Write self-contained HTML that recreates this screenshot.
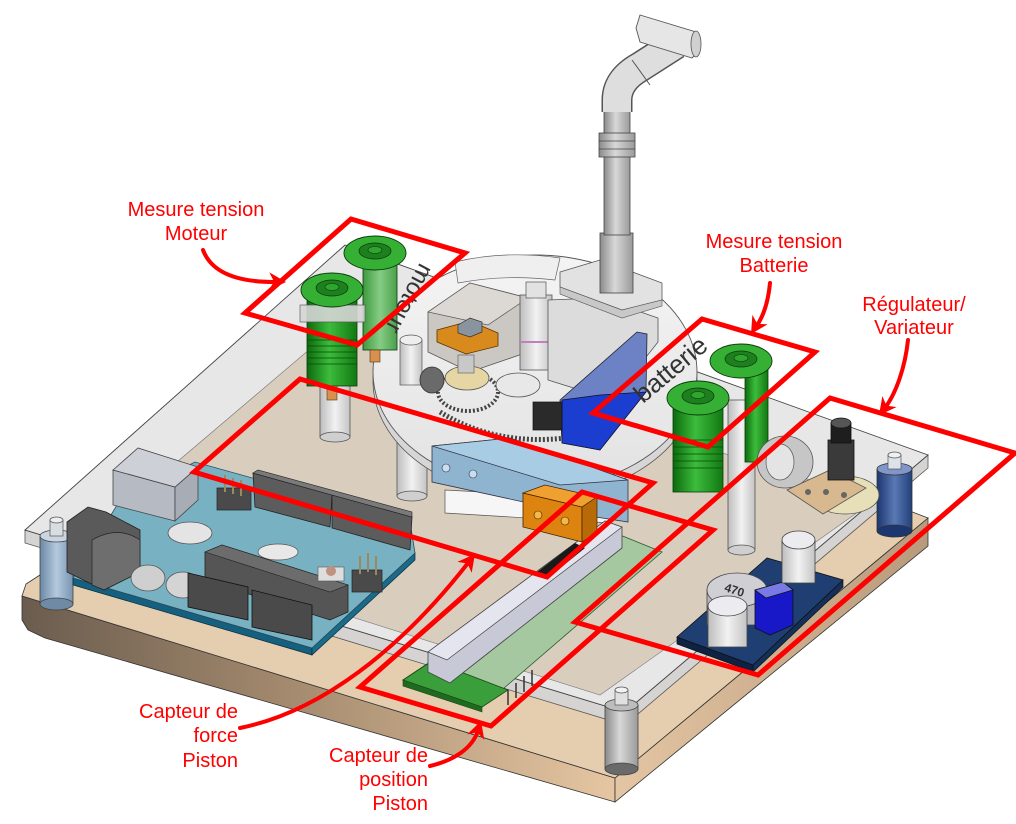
<!DOCTYPE html>
<html><head><meta charset="utf-8"><style>
html,body{margin:0;padding:0;background:#fff;}
svg{display:block;}
.lbl{font-family:"Liberation Sans",Arial,sans-serif;font-size:20px;fill:#ff0000;}
</style></head><body>
<svg width="1016" height="824" viewBox="0 0 1016 824" xmlns="http://www.w3.org/2000/svg">
<defs>
<linearGradient id="bl" x1="22" y1="0" x2="615" y2="0" gradientUnits="userSpaceOnUse">
<stop offset="0" stop-color="#6a5c4e"/><stop offset="0.45" stop-color="#a48a6e"/><stop offset="1" stop-color="#e6c6a2"/></linearGradient>
<linearGradient id="br" x1="615" y1="0" x2="928" y2="0" gradientUnits="userSpaceOnUse">
<stop offset="0" stop-color="#e4c6a4"/><stop offset="1" stop-color="#b89a7c"/></linearGradient>
<linearGradient id="cylg" x1="0" y1="0" x2="1" y2="0">
<stop offset="0" stop-color="#8a8a8a"/><stop offset="0.45" stop-color="#d8d8d8"/><stop offset="1" stop-color="#9a9a9a"/></linearGradient>
<linearGradient id="cylw" x1="0" y1="0" x2="1" y2="0">
<stop offset="0" stop-color="#bdbdbd"/><stop offset="0.5" stop-color="#f2f2f2"/><stop offset="1" stop-color="#c4c4c4"/></linearGradient>
<linearGradient id="cylb" x1="0" y1="0" x2="1" y2="0">
<stop offset="0" stop-color="#1c3670"/><stop offset="0.5" stop-color="#5a78b4"/><stop offset="1" stop-color="#22407a"/></linearGradient>
<linearGradient id="cyllb" x1="0" y1="0" x2="1" y2="0">
<stop offset="0" stop-color="#6a88a4"/><stop offset="0.5" stop-color="#b4cade"/><stop offset="1" stop-color="#7894b0"/></linearGradient>
<linearGradient id="cylgr" x1="0" y1="0" x2="1" y2="0">
<stop offset="0" stop-color="#0c6a0c"/><stop offset="0.45" stop-color="#3cbc3c"/><stop offset="1" stop-color="#127812"/></linearGradient>
<linearGradient id="cylgl" x1="0" y1="0" x2="1" y2="0">
<stop offset="0" stop-color="#3e9a3e"/><stop offset="0.5" stop-color="#86cc86"/><stop offset="1" stop-color="#4aa04a"/></linearGradient>
<linearGradient id="disc" x1="0" y1="0" x2="0" y2="1">
<stop offset="0" stop-color="#f4f4f4"/><stop offset="1" stop-color="#e2e2e2"/></linearGradient>
</defs>

<!-- BASE (wood) -->
<polygon points="22,596 615,778 615,802 45,638 28,630 22,620" fill="url(#bl)" stroke="#333" stroke-width="0.8"/>
<polygon points="615,778 928,518 928,546 615,802" fill="url(#br)" stroke="#333" stroke-width="0.8"/>
<polygon points="22,596 26,584 40,575 360,300 928,518 615,778" fill="#e5cdb0" stroke="#333" stroke-width="0.8"/>

<!-- ACRYLIC PLATE -->
<polygon points="25,530 625,712 928,455 928,468 625,725 25,543" fill="#d6d4d2" stroke="#555" stroke-width="0.8"/>
<polygon points="25,530 345,245 928,455 625,712" fill="#e7e7e7" stroke="#444" stroke-width="0.9"/>
<polygon points="91,535 330,332 875,500 600,695" fill="#d9cdbe" stroke="#777" stroke-width="0.6"/>

<!-- cutout white -->
<polygon points="445,490 627,500 610,523 445,513" fill="#f6f6f6" stroke="#555" stroke-width="0.7"/>

<!-- STANDOFFS -->
<rect x="40" y="536" width="33" height="68" fill="url(#cyllb)" stroke="#444" stroke-width="0.8"/>
<ellipse cx="56.5" cy="604" rx="16.5" ry="6" fill="#6f8aa4" stroke="#444" stroke-width="0.8"/>
<ellipse cx="56.5" cy="536" rx="16.5" ry="6" fill="#c9d6e2" stroke="#444" stroke-width="0.8"/>
<rect x="50" y="520" width="13" height="16" fill="#d8dde2" stroke="#555" stroke-width="0.7"/>
<ellipse cx="56.5" cy="520" rx="6.5" ry="3" fill="#eee" stroke="#555" stroke-width="0.7"/>

<rect x="605" y="705" width="33" height="64" fill="url(#cylg)" stroke="#444" stroke-width="0.8"/>
<ellipse cx="621.5" cy="769" rx="16.5" ry="6" fill="#6a6a6a" stroke="#444" stroke-width="0.8"/>
<ellipse cx="621.5" cy="705" rx="16.5" ry="6" fill="#bdbdbd" stroke="#444" stroke-width="0.8"/>
<rect x="615" y="690" width="13" height="15" fill="#e0e0e0" stroke="#555" stroke-width="0.7"/>
<ellipse cx="621.5" cy="690" rx="6.5" ry="3" fill="#f2f2f2" stroke="#555" stroke-width="0.7"/>

<rect x="877" y="469" width="35" height="62" fill="url(#cylb)" stroke="#333" stroke-width="0.8"/>
<ellipse cx="894.5" cy="531" rx="17.5" ry="6" fill="#1c3670" stroke="#333" stroke-width="0.8"/>
<ellipse cx="894.5" cy="469" rx="17.5" ry="6" fill="#8096c8" stroke="#333" stroke-width="0.8"/>
<rect x="888" y="455" width="13" height="14" fill="#dde2ea" stroke="#555" stroke-width="0.7"/>
<ellipse cx="894.5" cy="455" rx="6.5" ry="3" fill="#f0f0f0" stroke="#555" stroke-width="0.7"/>

<!-- white standoffs under disc -->
<rect x="320" y="385" width="30" height="52" fill="url(#cylw)" stroke="#555" stroke-width="0.8"/>
<ellipse cx="335" cy="437" rx="15" ry="5" fill="#cfcfcf" stroke="#555" stroke-width="0.8"/>
<rect x="397" y="380" width="30" height="116" fill="url(#cylw)" stroke="#555" stroke-width="0.8"/>
<ellipse cx="412" cy="496" rx="15" ry="5" fill="#cfcfcf" stroke="#555" stroke-width="0.8"/>

<!-- CENTRAL DISC -->
<ellipse cx="535" cy="381" rx="162" ry="117" fill="#d6d6d6" stroke="#555" stroke-width="0.8"/>
<ellipse cx="535" cy="372" rx="162" ry="117" fill="url(#disc)" stroke="#555" stroke-width="0.9"/>
<path d="M455,262 Q505,250 560,258 L555,280 Q505,274 458,283 Z" fill="#efefef" stroke="#666" stroke-width="0.7"/>
<!-- left housings on disc -->
<rect x="400" y="340" width="22" height="45" fill="url(#cylw)" stroke="#555" stroke-width="0.7"/>
<ellipse cx="411" cy="340" rx="11" ry="5" fill="#eee" stroke="#555" stroke-width="0.7"/>

<!-- motor gray box -->
<polygon points="428,312 470,283 528,298 528,352 470,372 428,352" fill="#cbc7c3" stroke="#555" stroke-width="0.8"/>
<polygon points="428,312 470,283 528,298 488,325" fill="#dcd8d4" stroke="#555" stroke-width="0.7"/>
<!-- orange bracket -->
<polygon points="437,330 470,321 498,333 498,346 466,354 437,342" fill="#d98a1c" stroke="#553300" stroke-width="0.8"/>
<polygon points="458,325 470,318 482,322 482,332 470,337 458,333" fill="#8a949e" stroke="#333" stroke-width="0.7"/>
<!-- gears -->
<ellipse cx="468" cy="392" rx="30" ry="19" fill="none" stroke="#444" stroke-width="4" stroke-dasharray="2 2"/>
<ellipse cx="467" cy="378" rx="22" ry="12" fill="#e6d6a4" stroke="#555" stroke-width="0.8"/>
<rect x="458" y="355" width="16" height="18" fill="#c8c8c8" stroke="#555" stroke-width="0.6"/>
<path d="M440,412 Q495,446 565,438" fill="none" stroke="#444" stroke-width="5" stroke-dasharray="2 2"/>
<ellipse cx="432" cy="380" rx="12" ry="13" fill="#6a6a6a" stroke="#333" stroke-width="0.8"/>
<!-- valve body -->
<rect x="520" y="295" width="32" height="75" fill="url(#cylw)" stroke="#555" stroke-width="0.8"/>
<line x1="520" y1="342" x2="552" y2="342" stroke="#c080c0" stroke-width="2"/>
<rect x="526" y="282" width="20" height="16" fill="#e2e2e2" stroke="#555" stroke-width="0.7"/>
<ellipse cx="518" cy="385" rx="22" ry="12" fill="#e8e8e8" stroke="#555" stroke-width="0.8"/>
<polygon points="548,300 600,298 658,318 658,342 612,400 548,380" fill="#dcdcdc" stroke="#555" stroke-width="0.8"/>
<!-- piston base -->
<polygon points="560,272 600,260 662,283 662,300 622,310 560,287" fill="#e2e2e2" stroke="#555" stroke-width="0.8"/>
<polygon points="560,287 622,310 662,300 662,306 622,318 560,294" fill="#c8c8c8" stroke="#555" stroke-width="0.6"/>
<!-- blue board -->
<polygon points="560,400 637,332 647,334 646,392 600,450 562,443" fill="#6d82c4" stroke="#223" stroke-width="0.8"/>
<polygon points="562,400 600,395 646,392 600,450 562,443" fill="#1c3ed0" stroke="#112" stroke-width="0.7"/>
<rect x="533" y="402" width="29" height="28" fill="#2a2a2a" stroke="#111" stroke-width="0.7"/>

<!-- PISTON TUBE -->
<rect x="600" y="233" width="33" height="60" fill="url(#cylg)" stroke="#444" stroke-width="0.8"/>
<rect x="604" y="100" width="26" height="135" fill="url(#cylg)" stroke="#444" stroke-width="0.8"/>
<rect x="599" y="133" width="36" height="24" fill="url(#cylg)" stroke="#444" stroke-width="0.8"/>
<line x1="599" y1="141" x2="635" y2="141" stroke="#444" stroke-width="0.7"/>
<line x1="599" y1="149" x2="635" y2="149" stroke="#444" stroke-width="0.7"/>
<path d="M617,112 L617,100 Q617,80 640,67 L676,44" fill="none" stroke="#555" stroke-width="31"/>
<path d="M617,112 L617,100 Q617,80 640,67 L676,44" fill="none" stroke="#dedede" stroke-width="28"/>
<line x1="632" y1="60" x2="650" y2="85" stroke="#555" stroke-width="1"/>
<polygon points="640,15 696,32 700,50 692,58 640,42 636,28" fill="#e6e6e6" stroke="#555" stroke-width="0.9"/>
<ellipse cx="696" cy="44" rx="5" ry="13" fill="#d0d0d0" stroke="#555" stroke-width="0.8"/>

<!-- MOTEUR CONNECTORS -->
<rect x="363" y="262" width="34" height="88" fill="url(#cylgl)" stroke="#0a3a0a" stroke-width="0.8"/>
<ellipse cx="375" cy="253" rx="31" ry="17" fill="#35b035" stroke="#0a3a0a" stroke-width="0.9"/>
<ellipse cx="375" cy="251" rx="16" ry="8" fill="#1d7f1d" stroke="#0a3a0a" stroke-width="0.7"/>
<ellipse cx="375" cy="250" rx="7" ry="3.5" fill="#2fa42f" stroke="#0a3a0a" stroke-width="0.6"/>
<rect x="370" y="350" width="10" height="12" fill="#d89050" stroke="#553300" stroke-width="0.6"/>
<rect x="307" y="300" width="50" height="86" fill="url(#cylgr)" stroke="#0a3a0a" stroke-width="0.8"/>
<g stroke="#0a4a0a" stroke-width="0.8">
<line x1="307" y1="340" x2="357" y2="340"/><line x1="307" y1="346" x2="357" y2="346"/><line x1="307" y1="352" x2="357" y2="352"/><line x1="307" y1="358" x2="357" y2="358"/><line x1="307" y1="364" x2="357" y2="364"/>
</g>
<polygon points="300,305 365,305 365,322 300,322" fill="#d6d6d6" stroke="#555" stroke-width="0.7" opacity="0.9"/>
<ellipse cx="332" cy="290" rx="31" ry="17" fill="#35b035" stroke="#0a3a0a" stroke-width="0.9"/>
<ellipse cx="332" cy="288" rx="16" ry="8" fill="#1d7f1d" stroke="#0a3a0a" stroke-width="0.7"/>
<ellipse cx="332" cy="287" rx="7" ry="3.5" fill="#2fa42f" stroke="#0a3a0a" stroke-width="0.6"/>
<rect x="327" y="386" width="10" height="14" fill="#d89050" stroke="#553300" stroke-width="0.6"/>
<text x="420" y="262" font-family="Liberation Sans,Arial,sans-serif" font-size="24" fill="#333" transform="rotate(118 420 262)">moteur</text>

<!-- BATTERIE CONNECTORS -->
<rect x="728" y="400" width="27" height="150" fill="url(#cylw)" stroke="#555" stroke-width="0.8"/>
<ellipse cx="741.5" cy="550" rx="13.5" ry="5" fill="#cfcfcf" stroke="#555" stroke-width="0.8"/>
<rect x="745" y="370" width="23" height="92" fill="url(#cylgr)" stroke="#0a3a0a" stroke-width="0.8"/>
<ellipse cx="741" cy="361" rx="31" ry="17" fill="#35b035" stroke="#0a3a0a" stroke-width="0.9"/>
<ellipse cx="741" cy="359" rx="16" ry="8" fill="#1d7f1d" stroke="#0a3a0a" stroke-width="0.7"/>
<ellipse cx="741" cy="358" rx="7" ry="3.5" fill="#2fa42f" stroke="#0a3a0a" stroke-width="0.6"/>
<rect x="673" y="405" width="50" height="87" fill="url(#cylgr)" stroke="#0a3a0a" stroke-width="0.8"/>
<g stroke="#0a4a0a" stroke-width="0.8">
<line x1="673" y1="440" x2="723" y2="440"/><line x1="673" y1="447" x2="723" y2="447"/><line x1="673" y1="454" x2="723" y2="454"/><line x1="673" y1="461" x2="723" y2="461"/><line x1="673" y1="468" x2="723" y2="468"/>
</g>
<ellipse cx="698" cy="398" rx="31" ry="17" fill="#35b035" stroke="#0a3a0a" stroke-width="0.9"/>
<ellipse cx="698" cy="396" rx="16" ry="8" fill="#1d7f1d" stroke="#0a3a0a" stroke-width="0.7"/>
<ellipse cx="698" cy="395" rx="7" ry="3.5" fill="#2fa42f" stroke="#0a3a0a" stroke-width="0.6"/>
<text x="643" y="404" font-family="Liberation Sans,Arial,sans-serif" font-size="26" fill="#333" transform="rotate(-40 643 404)">batterie</text>

<!-- motor cylinder near pot -->
<ellipse cx="785" cy="462" rx="28" ry="26" fill="#c6c6c6" stroke="#555" stroke-width="0.8"/>
<ellipse cx="780" cy="462" rx="14" ry="18" fill="#e4e4e4" stroke="#555" stroke-width="0.7"/>

<!-- POTENTIOMETER -->
<ellipse cx="845" cy="495" rx="34" ry="19" fill="#e6dfb8" stroke="#555" stroke-width="0.8"/>
<polygon points="787,490 830,470 866,488 823,514" fill="#d8b88e" stroke="#555" stroke-width="0.8"/>
<circle cx="808" cy="492" r="3" fill="#666"/><circle cx="826" cy="492" r="3" fill="#666"/><circle cx="844" cy="495" r="3" fill="#666"/>
<rect x="828" y="440" width="26" height="40" fill="#3a3a3a" stroke="#111" stroke-width="0.8"/>
<rect x="831" y="423" width="20" height="20" fill="#1e1e1e" stroke="#111" stroke-width="0.8"/>
<ellipse cx="841" cy="423" rx="10" ry="5" fill="#555" stroke="#111" stroke-width="0.7"/>

<!-- REGULATOR BOARD -->
<polygon points="677,637 753,665 753,672 677,644" fill="#0e2244" stroke="#111" stroke-width="0.7"/>
<polygon points="753,665 843,580 843,587 753,672" fill="#14305a" stroke="#111" stroke-width="0.7"/>
<polygon points="677,637 767,558 843,580 753,665" fill="#1f3f72" stroke="#111" stroke-width="0.8"/>
<rect x="707" y="590" width="60" height="35" fill="#b8b8bc" stroke="#444" stroke-width="0.8"/>
<ellipse cx="737" cy="590" rx="30" ry="17" fill="#d0d0d4" stroke="#444" stroke-width="0.8"/>
<text x="724" y="595" font-family="Liberation Sans,Arial,sans-serif" font-size="12" font-weight="bold" fill="#333" transform="rotate(18 737 592)">470</text>
<rect x="708" y="606" width="39" height="41" fill="url(#cylw)" stroke="#444" stroke-width="0.8"/>
<ellipse cx="727.5" cy="606" rx="19.5" ry="10" fill="#ececf0" stroke="#444" stroke-width="0.8"/>
<polygon points="755,590 783,582 793,590 793,625 770,635 755,628" fill="#1818c8" stroke="#111" stroke-width="0.8"/>
<polygon points="755,590 783,582 793,590 766,598" fill="#7a7ae6" stroke="#111" stroke-width="0.7"/>
<rect x="782" y="540" width="33" height="43" fill="url(#cylw)" stroke="#444" stroke-width="0.8"/>
<ellipse cx="798.5" cy="540" rx="16.5" ry="9" fill="#ececf0" stroke="#444" stroke-width="0.8"/>

<!-- ARDUINO -->
<polygon points="73,578 312,648 312,655 73,585" fill="#15607e" stroke="#0a2a3a" stroke-width="0.7"/>
<polygon points="312,648 415,553 415,560 312,655" fill="#1a6a8a" stroke="#0a2a3a" stroke-width="0.7"/>
<polygon points="73,578 312,648 415,553 410,522 195,462 120,500" fill="#78b2c2" stroke="#2a4a5a" stroke-width="0.8"/>
<!-- back headers -->
<polygon points="253,473 332,495 330,527 255,507" fill="#5c5c5c" stroke="#222" stroke-width="0.8"/>
<polygon points="332,495 412,517 410,550 332,528" fill="#5c5c5c" stroke="#222" stroke-width="0.8"/>
<polygon points="253,473 258,470 412,512 412,517 332,495" fill="#7a7a7a" stroke="#222" stroke-width="0.6"/>
<rect x="217" y="488" width="34" height="22" fill="#4a4a4a" stroke="#222" stroke-width="0.7"/>
<g stroke="#9a8a60" stroke-width="2"><line x1="225" y1="475" x2="225" y2="492"/><line x1="233" y1="478" x2="233" y2="494"/><line x1="241" y1="480" x2="241" y2="496"/></g>
<!-- USB -->
<polygon points="113,470 175,487 175,521 113,505" fill="#b6bac2" stroke="#444" stroke-width="0.8"/>
<polygon points="175,487 198,467 198,500 175,521" fill="#a8acb4" stroke="#444" stroke-width="0.8"/>
<polygon points="113,470 138,448 198,467 175,487" fill="#cdd0d6" stroke="#444" stroke-width="0.8"/>
<!-- power jack -->
<polygon points="67,522 88,507 106,512 140,530 140,572 104,590 67,572" fill="#5a5a5a" stroke="#222" stroke-width="0.8"/>
<path d="M92,540 Q118,525 140,540 L140,572 L104,590 L92,585 Z" fill="#6e6e6e" stroke="#222" stroke-width="0.7"/>
<!-- crystal, caps -->
<ellipse cx="190" cy="533" rx="22" ry="11" fill="#e4e4e4" stroke="#555" stroke-width="0.8"/>
<ellipse cx="148" cy="578" rx="17" ry="13" fill="#cfcfcf" stroke="#555" stroke-width="0.8"/>
<ellipse cx="183" cy="585" rx="17" ry="13" fill="#d4d4d4" stroke="#555" stroke-width="0.8"/>
<ellipse cx="278" cy="552" rx="20" ry="8" fill="#e8e8e8" stroke="#555" stroke-width="0.7"/>
<!-- IC -->
<polygon points="205,552 222,545 348,585 348,612 330,620 205,580" fill="#555" stroke="#222" stroke-width="0.8"/>
<polygon points="205,552 222,545 348,585 330,592" fill="#6c6c6c" stroke="#222" stroke-width="0.6"/>
<!-- front headers -->
<polygon points="188,573 248,587 248,620 188,607" fill="#4a4a4a" stroke="#111" stroke-width="0.8"/>
<polygon points="252,590 312,605 312,640 252,627" fill="#4a4a4a" stroke="#111" stroke-width="0.8"/>
<!-- reset, pins -->
<rect x="318" y="567" width="26" height="14" fill="#ddd" stroke="#555" stroke-width="0.6"/>
<circle cx="331" cy="571" r="5" fill="#c09080"/>
<rect x="352" y="570" width="30" height="22" fill="#4a4a4a" stroke="#222" stroke-width="0.7"/>
<g stroke="#9a8a60" stroke-width="2"><line x1="360" y1="556" x2="360" y2="574"/><line x1="368" y1="553" x2="368" y2="572"/><line x1="376" y1="556" x2="376" y2="575"/></g>

<!-- SLIDER (position sensor) -->
<polygon points="403,680 620,535 662,552 482,707" fill="#a6c8a0" stroke="#2a5a2a" stroke-width="0.8"/>
<polygon points="403,680 432,661 508,690 482,707" fill="#3a9e3a" stroke="#1a4a1a" stroke-width="0.8"/>
<polygon points="403,680 482,707 482,712 403,686" fill="#1f6a1f" stroke="#1a4a1a" stroke-width="0.6"/>
<g stroke="#333" stroke-width="1.5"><line x1="508" y1="690" x2="508" y2="705"/><line x1="516" y1="683" x2="516" y2="698"/><line x1="524" y1="676" x2="524" y2="692"/><line x1="532" y1="670" x2="532" y2="686"/></g>
<polygon points="428,652 605,521 622,527 622,548 450,683 428,672" fill="#c8c9d6" stroke="#444" stroke-width="0.8"/>
<polygon points="428,652 605,521 622,527 447,660" fill="#e4e5ee" stroke="#444" stroke-width="0.7"/>
<polygon points="537,572 575,543 585,548 548,578" fill="#1a1a1a"/>
<!-- light blue block -->
<polygon points="432,446 510,438 628,480 628,522 583,515 432,482" fill="#8fb4d0" stroke="#334" stroke-width="0.8"/>
<polygon points="432,446 510,438 628,480 560,485" fill="#a8cce4" stroke="#334" stroke-width="0.7"/>
<circle cx="446" cy="468" r="4" fill="#c8def0" stroke="#334" stroke-width="0.6"/>
<circle cx="473" cy="474" r="4" fill="#c8def0" stroke="#334" stroke-width="0.6"/>
<!-- orange block -->
<polygon points="523,493 582,507 582,542 523,527" fill="#dd8410" stroke="#442200" stroke-width="0.8"/>
<polygon points="523,493 545,485 597,497 582,507" fill="#f0a030" stroke="#442200" stroke-width="0.7"/>
<polygon points="582,507 597,497 597,532 582,542" fill="#b86a08" stroke="#442200" stroke-width="0.7"/>
<circle cx="538" cy="515" r="4" fill="#f4b848" stroke="#442200" stroke-width="0.6"/>
<circle cx="565" cy="521" r="4" fill="#f4b848" stroke="#442200" stroke-width="0.6"/>

<!-- RED ANNOTATION BOXES -->
<g fill="none" stroke="#ff0000" stroke-width="5" stroke-linejoin="miter">
<polygon points="351,219 465,253 357,345 245,313"/>
<polygon points="300,379 653,483 547,577 194,472"/>
<polygon points="582,492 713,530 491,726 360,687"/>
<polygon points="702,319 815,352 708,447 593,413"/>
<polygon points="830,398 1015,453 758,675 575,622"/>
</g>

<!-- ARROWS -->
<g fill="none" stroke="#ff0000" stroke-width="4" stroke-linecap="round">
<path d="M203,250 C212,274 240,282 274,282"/>
<path d="M770,283 C768,304 763,317 756,327"/>
<path d="M908,340 C905,368 896,393 885,408"/>
<path d="M240,728 C320,712 400,650 468,563"/>
<path d="M430,766 C455,760 472,748 478,731"/>
</g>
<g fill="#ff0000">
<path d="M0,0 L-17,-9 L-12,0 L-17,9 Z" transform="translate(286,282) rotate(2)"/>
<path d="M0,0 L-17,-9 L-12,0 L-17,9 Z" transform="translate(751,334) rotate(122)"/>
<path d="M0,0 L-17,-9 L-12,0 L-17,9 Z" transform="translate(879,415) rotate(128)"/>
<path d="M0,0 L-17,-9 L-12,0 L-17,9 Z" transform="translate(475,554) rotate(-52)"/>
<path d="M0,0 L-17,-9 L-12,0 L-17,9 Z" transform="translate(481,721) rotate(-72)"/>
</g>

<!-- LABELS -->
<text class="lbl" x="196" y="216" text-anchor="middle">Mesure tension</text>
<text class="lbl" x="196" y="240" text-anchor="middle">Moteur</text>
<text class="lbl" x="774" y="248" text-anchor="middle">Mesure tension</text>
<text class="lbl" x="774" y="272" text-anchor="middle">Batterie</text>
<text class="lbl" x="914" y="311" text-anchor="middle">Régulateur/</text>
<text class="lbl" x="914" y="334" text-anchor="middle">Variateur</text>
<text class="lbl" x="238" y="718" text-anchor="end">Capteur de</text>
<text class="lbl" x="238" y="742" text-anchor="end">force</text>
<text class="lbl" x="238" y="767" text-anchor="end">Piston</text>
<text class="lbl" x="428" y="762" text-anchor="end">Capteur de</text>
<text class="lbl" x="428" y="786" text-anchor="end">position</text>
<text class="lbl" x="428" y="810" text-anchor="end">Piston</text>
</svg>
</body></html>
